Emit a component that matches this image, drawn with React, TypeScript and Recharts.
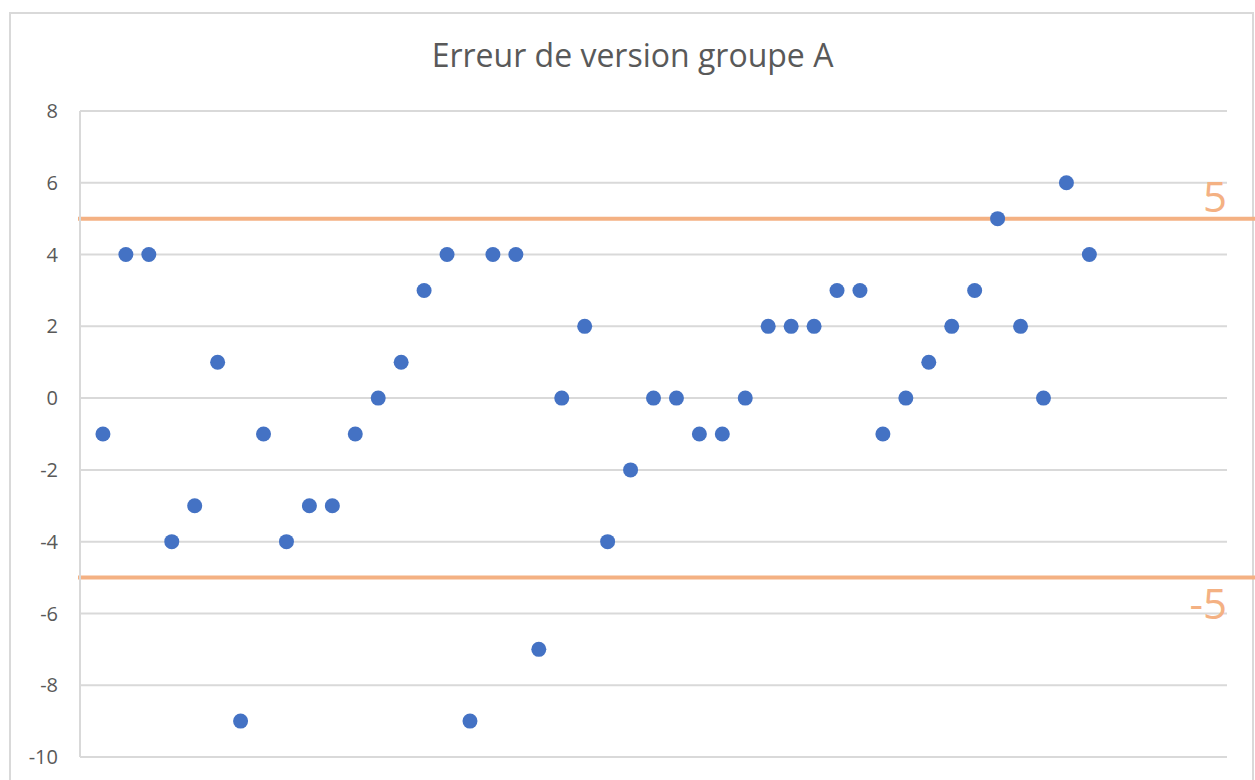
import { ScatterChart, Scatter, XAxis, YAxis, CartesianGrid, ReferenceLine } from 'recharts';

// Excel-like scatter: one point per measurement (index 1..44)
const indices = [
  1, 2, 3, 4, 5, 6, 7, 8, 9, 10, 11, 12, 13, 14, 15, 16, 17, 18, 19, 20, 21, 22,
  23, 24, 25, 26, 27, 28, 29, 30, 31, 32, 33, 34, 35, 36, 37, 38, 39, 40, 41, 42, 43, 44,
];
const errors = [
  -1, 4, 4, -4, -3, 1, -9, -1, -4, -3, -3, -1, 0, 1, 3, 4, -9, 4, 4, -7, 0, 2,
  -4, -2, 0, 0, -1, -1, 0, 2, 2, 2, 3, 3, -1, 0, 1, 2, 3, 5, 2, 0, 6, 4,
];
const yTicks = [-10, -8, -6, -4, -2, 0, 2, 4, 6, 8];
const limits = [5, -5];

const data = indices.map((x, i) => ({ x, y: errors[i] }));

const FONT = '"Open Sans", sans-serif';
const ORANGE = '#F4B183';
const WIDTH = 1255;
const HEIGHT = 780;

const Dot = (props: any) => <circle cx={props.cx} cy={props.cy} r={7.5} fill="#4472C4" />;

const limitShape = (value: number) => (props: any) => {
  const y = props.y1;
  const right = props.x2;
  return (
    <g>
      <line x1={78} y1={y} x2={WIDTH} y2={y} stroke={ORANGE} strokeWidth={4} />
      <text
        x={right}
        y={value > 0 ? y - 7 : y + 41}
        textAnchor="end"
        fill={ORANGE}
        fontSize={42}
        fontFamily={FONT}
      >
        {value}
      </text>
    </g>
  );
};

export default function App() {
  return (
    <div style={{ position: 'absolute', left: 0, top: 0, width: WIDTH, height: HEIGHT, overflow: 'hidden', background: '#fff' }}>
      <div
        style={{
          position: 'absolute',
          left: 9,
          top: 12,
          width: WIDTH - 10,
          height: HEIGHT,
          border: '2px solid #D9D9D9',
          boxSizing: 'border-box',
        }}
      />
      <div
        style={{
          position: 'absolute',
          left: 0,
          top: 33,
          width: WIDTH + 10,
          textAlign: 'center',
          fontFamily: FONT,
          fontSize: 32,
          color: '#595959',
        }}
      >
        Erreur de version groupe A
      </div>
      <div style={{ position: 'absolute', left: 0, top: 0 }}>
        <ScatterChart width={WIDTH} height={HEIGHT} margin={{ top: 111, right: 28, bottom: 23, left: 0 }}>
          <CartesianGrid vertical={false} stroke="#D9D9D9" strokeWidth={2} />
          <XAxis type="number" dataKey="x" domain={[0, 50]} hide />
          <YAxis
            type="number"
            dataKey="y"
            domain={[-10, 8]}
            ticks={yTicks}
            width={80}
            axisLine={{ stroke: '#D9D9D9', strokeWidth: 2 }}
            tickLine={false}
            tickSize={0}
            tickMargin={22}
            tick={{ fill: '#595959', fontSize: 20, fontFamily: FONT }}
            interval={0}
          />
          <Scatter data={data} shape={Dot} isAnimationActive={false} />
          {limits.map((v) => (
            <ReferenceLine key={v} y={v} shape={limitShape(v)} ifOverflow="visible" />
          ))}
        </ScatterChart>
      </div>
    </div>
  );
}
